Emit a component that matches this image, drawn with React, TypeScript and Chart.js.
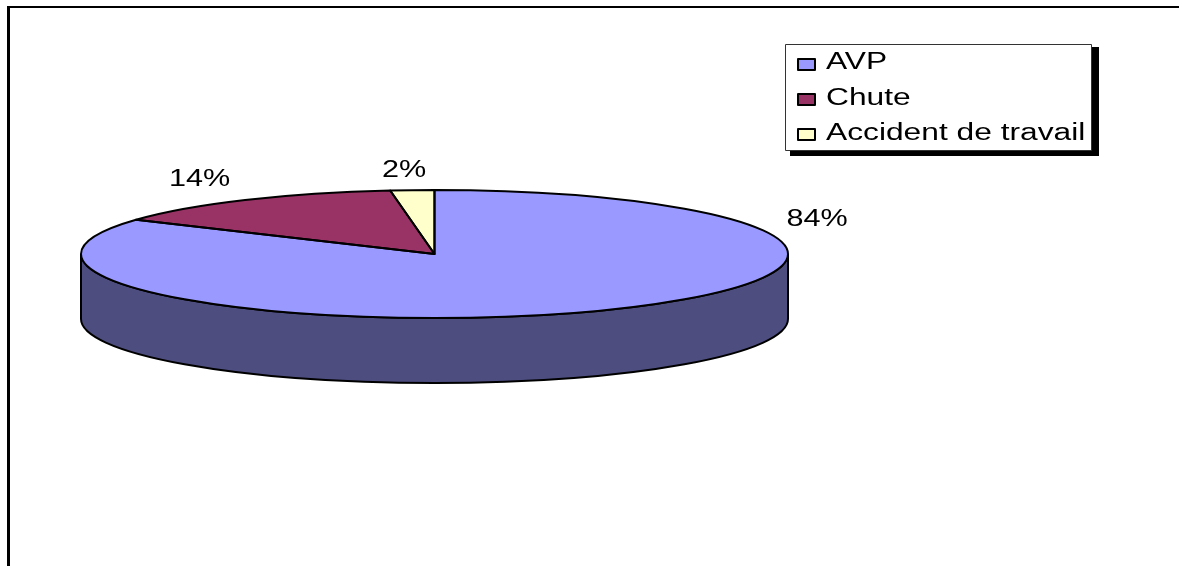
import React, { useEffect, useRef } from "react";
import { Chart, registerables } from "chart.js";

Chart.register(...registerables);

const categories = ["AVP", "Chute", "Accident de travail"];
const values = [84, 14, 2];
const percentLabels = ["84%", "14%", "2%"];
const sliceColors = ["#9999ff", "#993366", "#ffffcc"];
const sideColor = "#4d4d80";

const FONT = '"Liberation Sans", Arial, sans-serif';
const CX = 434.5;
const CY = 254;
const RX = 353.5;
const RY = 64;
const DEPTH = 65;

const labelCenters = [
  [817, 226],
  [199.5, 186],
  [404, 177],
];
const legendBaselines = [69, 104.5, 140];
const swatchTops = [59, 94, 129];

function wideText(c: any, text: string, x: number, y: number, sx: number, align: string) {
  c.save();
  c.translate(x, y);
  c.scale(sx, 1);
  c.textAlign = align;
  c.textBaseline = "alphabetic";
  c.fillText(text, 0, 0);
  c.restore();
}

const pie3d = {
  id: "pie3d",
  beforeDraw(chart: any) {
    const c = chart.ctx;
    c.save();
    c.fillStyle = "#fff";
    c.fillRect(0, 0, chart.width, chart.height);
    c.fillStyle = "#000";
    c.fillRect(7, 6, chart.width - 7, 2);
    c.fillRect(7, 6, 3, chart.height - 6);
    c.restore();
  },
  beforeDatasetsDraw(chart: any) {
    const c = chart.ctx;
    c.save();
    c.fillStyle = sideColor;
    c.strokeStyle = "#000";
    c.lineWidth = 2;
    c.beginPath();
    c.ellipse(CX, CY, RX, RY, 0, 0, Math.PI, false);
    c.lineTo(CX - RX, CY + DEPTH);
    c.ellipse(CX, CY + DEPTH, RX, RY, 0, Math.PI, 0, true);
    c.closePath();
    c.fill();
    c.stroke();
    c.restore();
    const arc = chart.getDatasetMeta(0).data[0];
    const r = arc.outerRadius;
    c.save();
    c.translate(CX, CY);
    c.scale(RX / r, RY / r);
    c.translate(-arc.x, -arc.y);
  },
  afterDatasetsDraw(chart: any) {
    const c = chart.ctx;
    c.restore();
    c.save();
    // slice outlines, with an even pen width on the squashed pie
    c.strokeStyle = "#000";
    c.lineWidth = 2;
    c.lineJoin = "round";
    chart.getDatasetMeta(0).data.forEach((arc: any) => {
      c.beginPath();
      c.moveTo(CX, CY);
      c.ellipse(CX, CY, RX, RY, 0, arc.startAngle, arc.endAngle, false);
      c.closePath();
      c.stroke();
    });
    // percentage labels
    c.fillStyle = "#000";
    c.font = `23px ${FONT}`;
    percentLabels.forEach((t, i) => {
      wideText(c, t, labelCenters[i][0], labelCenters[i][1], 1.33, "center");
    });
    // legend with drop shadow
    c.fillStyle = "#000";
    c.fillRect(790, 47, 309, 109);
    c.fillStyle = "#fff";
    c.fillRect(785, 44, 307, 106);
    c.strokeStyle = "#333";
    c.lineWidth = 1;
    c.strokeRect(785.5, 44.5, 306, 106);
    categories.forEach((t, i) => {
      c.fillStyle = sliceColors[i];
      c.strokeStyle = "#000";
      c.lineWidth = 2;
      c.fillRect(798, swatchTops[i], 17, 11);
      c.strokeRect(798, swatchTops[i], 17, 11);
      c.fillStyle = "#000";
      wideText(c, t, 826, legendBaselines[i], 1.38, "left");
    });
    c.restore();
  },
};

export default function App() {
  const ref = useRef<HTMLCanvasElement>(null);
  useEffect(() => {
    document.body.style.margin = "0";
    const chart = new Chart(ref.current!, {
      type: "pie",
      data: {
        labels: categories,
        datasets: [
          {
            data: values,
            backgroundColor: sliceColors,
            borderWidth: 0,
          },
        ],
      },
      options: {
        responsive: false,
        animation: false,
        devicePixelRatio: 1,
        rotation: 0,
        layout: { padding: 0 },
        plugins: { legend: { display: false }, tooltip: { enabled: false } },
      },
      plugins: [pie3d],
    } as any);
    return () => chart.destroy();
  }, []);
  return <canvas ref={ref} width={1179} height={566} style={{ display: "block" }} />;
}
